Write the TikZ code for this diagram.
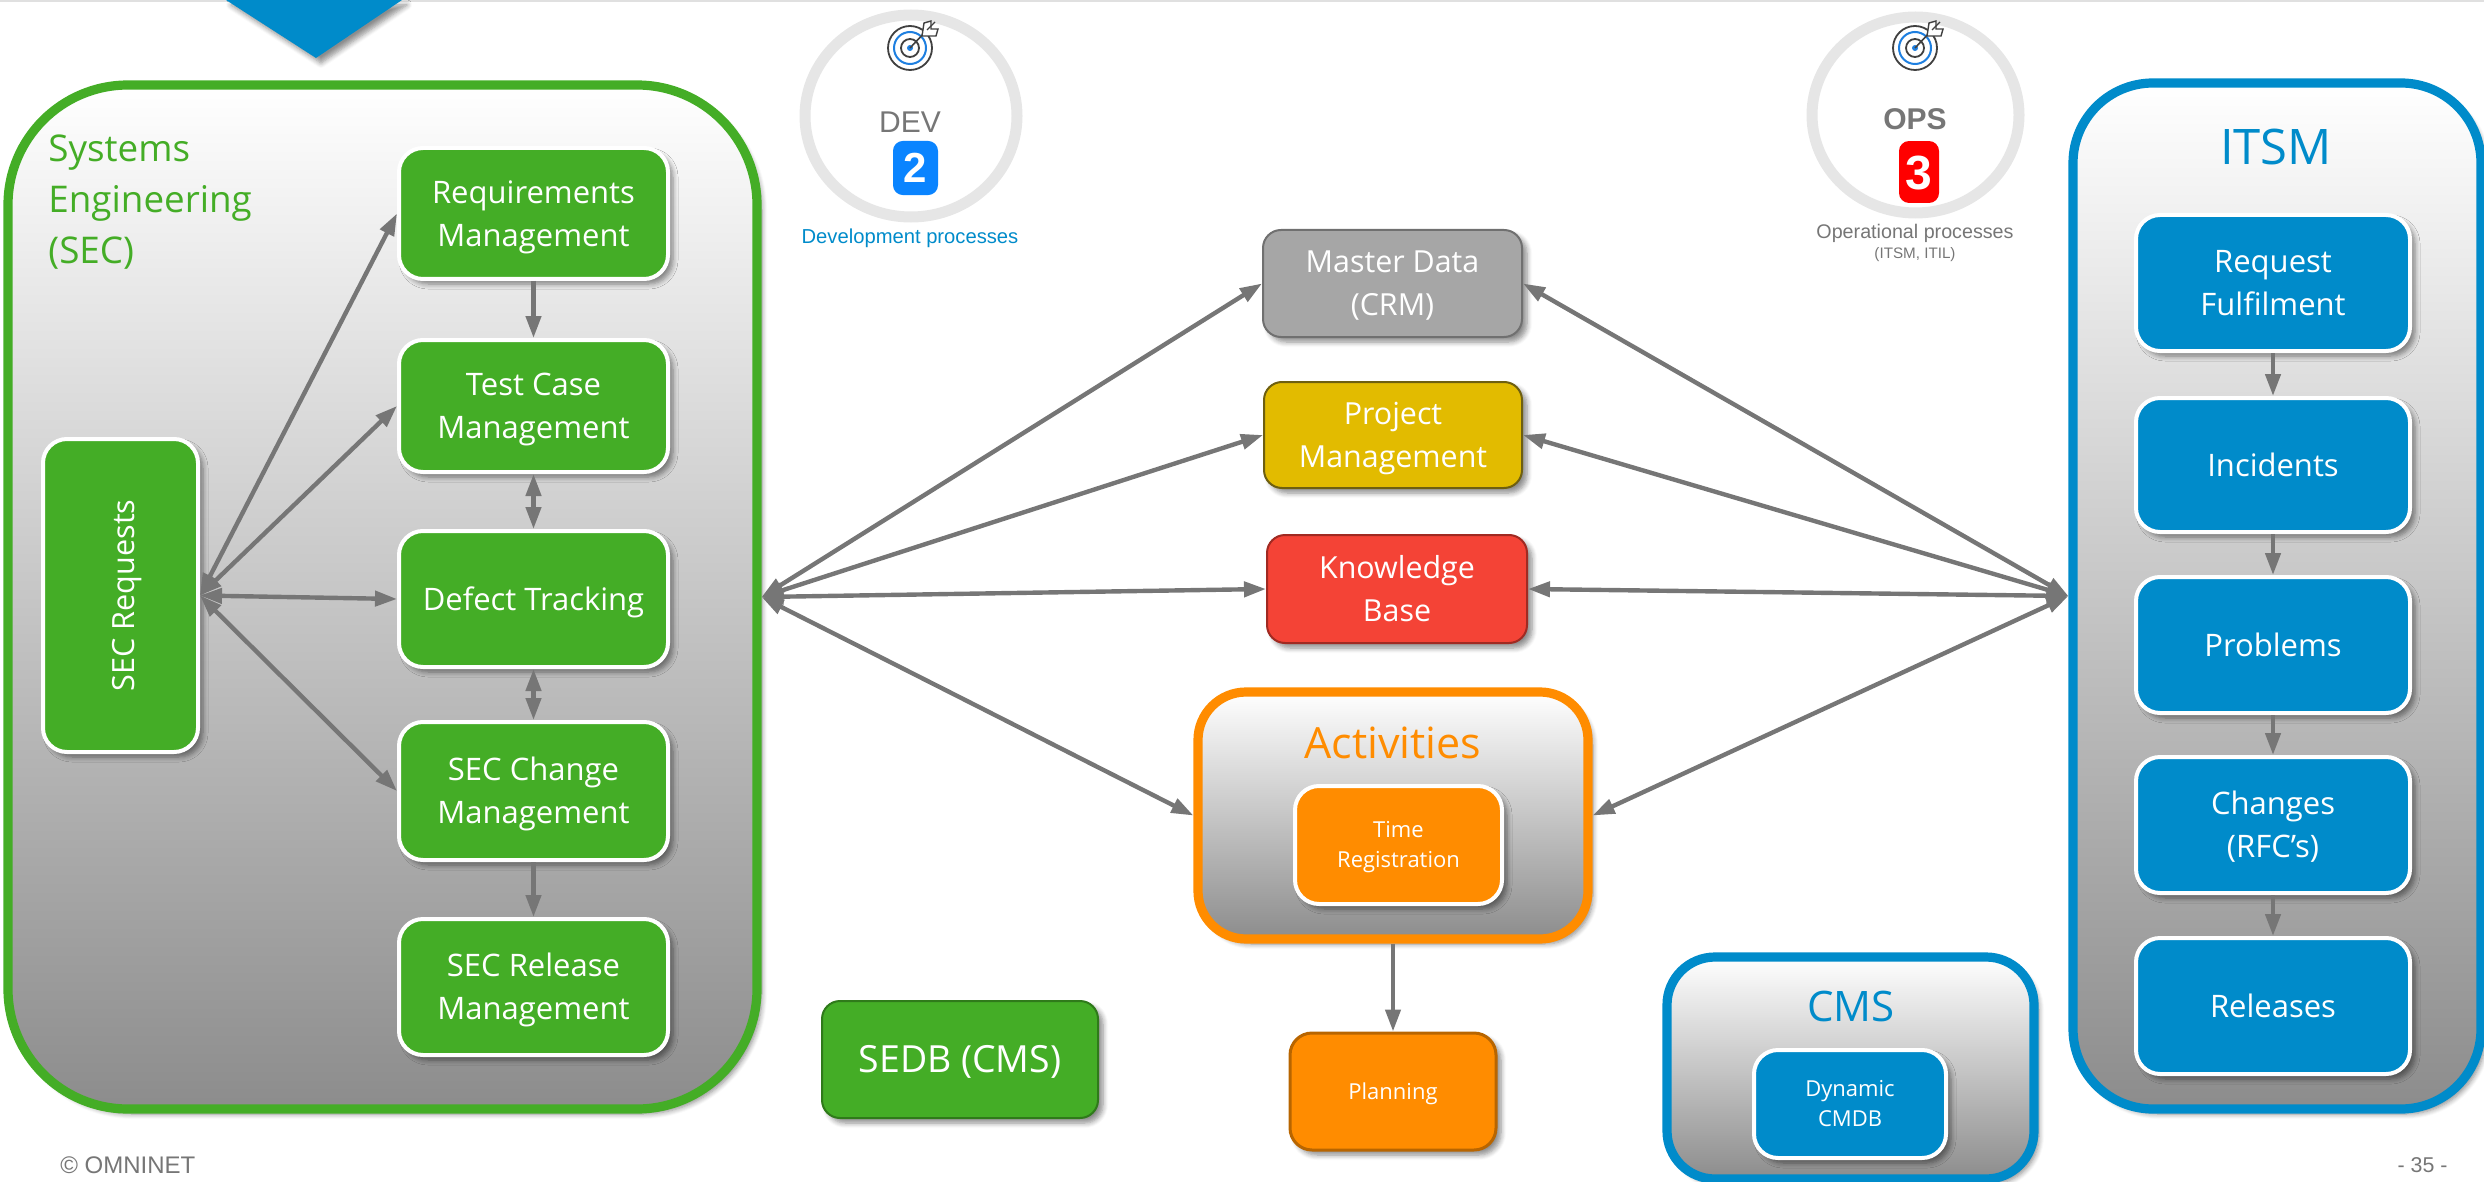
\documentclass[tikz,border=0pt]{standalone}
\usepackage{fontspec}
\setmainfont{Open Sans}
\newfontfamily\lib{Liberation Sans}
\usetikzlibrary{arrows.meta,shadows.blur,shapes.geometric}
\definecolor{sgreen}{HTML}{44AD26}
\definecolor{sgreendk}{HTML}{2F7A1A}
\definecolor{sblue}{HTML}{008BCA}
\definecolor{sorange}{HTML}{FF8C00}
\definecolor{sorangedk}{HTML}{B86500}
\definecolor{arrowgrey}{HTML}{767676}
\definecolor{ringgrey}{HTML}{E6E6E6}
\definecolor{txtgrey}{HTML}{767676}
\definecolor{mastergrey}{HTML}{A6A6A6}
\definecolor{mastergreydk}{HTML}{707070}
\definecolor{projyellow}{HTML}{E2BB00}
\definecolor{projyellowdk}{HTML}{6E5F10}
\definecolor{knowred}{HTML}{F44336}
\definecolor{knowreddk}{HTML}{A02A22}
\definecolor{badgeblue}{HTML}{0A84FF}
\definecolor{badgered}{HTML}{FF0000}
\definecolor{iconblue}{HTML}{1E7FE0}
\definecolor{icondark}{HTML}{404040}
\tikzset{
  shad/.style={blur shadow={shadow xshift=2.5pt,shadow yshift=-2.5pt,shadow blur steps=6,shadow blur radius=2.5pt,shadow opacity=45}},
  panel/.style={draw=#1,line width=4.6pt,top color=white,bottom color=black!45,shad,inner sep=0pt},
  procbox/.style={fill=#1,draw=white,line width=2pt,rounded corners=12pt,text=white,align=center,shad,inner sep=0pt,
     font=\fontsize{15.5}{21.5}\selectfont},
  smallbox/.style={procbox=#1,font=\fontsize{11}{15}\selectfont},
  solidbox/.style 2 args={fill=#1,draw=#2,line width=1pt,rounded corners=9pt,text=white,align=center,shad,inner sep=0pt,
     font=\fontsize{15.2}{21.5}\selectfont},
  conn/.style={draw=arrowgrey,line width=2.2pt,-{Triangle[length=11pt,width=7.5pt]}},
  conntwo/.style={draw=arrowgrey,line width=2.2pt,{Triangle[length=11pt,width=7.5pt]}-{Triangle[length=11pt,width=7.5pt]}},
  ptitle/.style={text=#1,align=center,inner sep=0pt},
  ring/.style={ellipse,draw=ringgrey,line width=5.5pt,fill=white,inner sep=0pt},
  lbl/.style={inner sep=0pt,align=center,font=\lib},
  badge/.style={fill=#1,rounded corners=5pt,inner sep=0pt,text=white},
}
\newcommand\bx[7]{%
  \pgfmathsetmacro\bxcx{(#2+#4)/2}\pgfmathsetmacro\bxcy{(#3+#5)/2}%
  \pgfmathsetmacro\bxw{(#4-#2)/2}\pgfmathsetmacro\bxh{(#5-#3)/2}%
  \node[#6,minimum width=\bxw pt,minimum height=\bxh pt] (#1) at (\bxcx,\bxcy) {\rule{0pt}{1em}#7\rule[-.29em]{0pt}{0pt}};}
\newcommand\targeticon[2]{%
  \begin{scope}[shift={(#1,#2)}]
    \draw[draw=icondark,line width=.9pt,fill=white] (0,0) circle [radius=11pt];
    \draw[draw=iconblue,line width=1pt] (0,0) circle [radius=8pt];
    \draw[draw=icondark,line width=.9pt] (0,0) circle [radius=4.5pt];
    \fill[iconblue] (0,0) circle [radius=1.5pt];
    \draw[icondark,line width=.8pt] (0,0) -- (17,-18);
    \draw[icondark,line width=.7pt,fill=white] (12,-12) -- (14,-25) -- (21,-27) -- (21,-19) -- (28,-19) -- (26,-12) -- cycle;
    \draw[icondark,line width=.6pt] (17,-18) -- (25,-26);
  \end{scope}}
\begin{document}
\begin{tikzpicture}[x=0.5pt,y=-0.5pt]
\useasboundingbox (0,0) rectangle (2484,1182);
\fill[black!12] (0,0) rectangle (2484,2.5);
% header triangle
\fill[sblue,shad] (226,0) -- (402,0) -- (316,58) -- cycle;
% circles
\bx{devring}{805}{15}{1017}{217}{ring}{}
\bx{opsring}{1812}{17}{2019}{213}{ring}{}
\targeticon{910}{48}
\targeticon{1915}{48}
\node[lbl,text=txtgrey,font=\lib\fontsize{15}{18}\selectfont] (devlbl) at (910,122) {DEV};
\node[lbl,text=txtgrey,font=\lib\bfseries\fontsize{15}{18}\selectfont] (opslbl) at (1915,119) {OPS};
\bx{devbadge}{893}{145}{938}{191}{badge=badgeblue,font=\lib\bfseries\fontsize{21}{21}\selectfont}{2}
\bx{opsbadge}{1899}{144}{1939}{200}{badge=badgered,font=\lib\bfseries\fontsize{24}{24}\selectfont}{3}
\node[lbl,text=sblue,font=\lib\fontsize{10.1}{12}\selectfont] (devcap) at (910,238) {Development processes};
\node[lbl,text=txtgrey,font=\lib\fontsize{9.85}{12}\selectfont] (opscap) at (1915,233) {Operational processes};
\node[lbl,text=txtgrey,font=\lib\fontsize{7.6}{9}\selectfont] (opscap2) at (1915,255) {(ITSM, ITIL)};
% SEC panel
\bx{sec}{8}{85}{757}{1109}{panel=sgreen,rounded corners=60pt}{}
\node[anchor=north west,text=sgreen,align=left,inner sep=0pt,font=\fontsize{18.4}{25.5}\selectfont] (sectitle) at (48,134) {Systems\\Engineering\\(SEC)};
\bx{req}{399}{148}{668}{279}{procbox=sgreen}{Requirements\\Management}
\bx{test}{399}{340}{668}{472}{procbox=sgreen}{Test Case\\Management}
\bx{defect}{399}{531}{668}{667}{procbox=sgreen}{Defect Tracking}
\bx{change}{399}{722}{668}{860}{procbox=sgreen}{SEC Change\\Management}
\bx{release}{399}{919}{668}{1055}{procbox=sgreen}{SEC Release\\Management}
\bx{secreq}{43}{439}{198}{752}{procbox=sgreen}{}
\node[rotate=90,text=white,inner sep=0pt,font=\fontsize{15.3}{21.5}\selectfont] (secreqlbl) at ([xshift=3.5pt]secreq.center) {SEC Requests};
% ITSM panel
\bx{itsm}{2073}{83}{2481}{1109}{panel=sblue,rounded corners=40pt}{}
\node[ptitle=sblue,font=\fontsize{24.5}{30}\selectfont] (itsmtitle) at (2276,147) {ITSM};
\bx{fulfil}{2136}{215}{2410}{351}{procbox=sblue}{Request\\Fulfilment}
\bx{incid}{2136}{398}{2410}{532}{procbox=sblue}{Incidents}
\bx{prob}{2136}{577}{2410}{713}{procbox=sblue}{Problems}
\bx{chg}{2136}{757}{2410}{893}{procbox=sblue}{Changes\\(RFC’s)}
\bx{rel}{2136}{938}{2410}{1074}{procbox=sblue}{Releases}
% middle boxes
\bx{master}{1263}{230}{1522}{337}{solidbox={mastergrey}{mastergreydk}}{Master Data\\(CRM)}
\bx{project}{1264}{382}{1522}{488}{solidbox={projyellow}{projyellowdk}}{Project\\Management}
\bx{know}{1267}{535}{1527}{643}{solidbox={knowred}{knowreddk}}{Knowledge\\Base}
\bx{activ}{1198}{692}{1588}{939}{panel=sorange,rounded corners=24pt}{}
\node[ptitle=sorange,font=\fontsize{21.5}{26}\selectfont] (activtitle) at (1393,743) {Activities};
\bx{timereg}{1295}{786}{1502}{904}{smallbox=sorange}{Time\\Registration}
\bx{plan}{1290}{1033}{1496}{1150}{solidbox={sorange}{sorangedk},line width=1.5pt,font=\fontsize{11}{15}\selectfont,rounded corners=11pt}{Planning}
\bx{sedb}{822}{1001}{1098}{1118}{solidbox={sgreen}{sgreendk},font=\fontsize{18.7}{26}\selectfont}{SEDB (CMS)}
% CMS panel
\bx{cms}{1667}{957}{2034}{1179}{panel=sblue,rounded corners=24pt}{}
\node[ptitle=sblue,font=\fontsize{21}{26}\selectfont] (cmstitle) at (1851,1006) {CMS};
\bx{cmdb}{1754}{1050}{1946}{1158}{smallbox=sblue}{Dynamic\\CMDB}
% connectors inside SEC
\draw[conntwo] (secreq.east) -- (req.west);
\draw[conntwo] (secreq.east) -- (test.west);
\draw[conntwo] (secreq.east) -- (defect.west);
\draw[conntwo] (secreq.east) -- (change.west);
\draw[conn] (req.south) -- (test.north);
\draw[conntwo] (test.south) -- (defect.north);
\draw[conntwo] (defect.south) -- (change.north);
\draw[conn] (change.south) -- (release.north);
% connectors inside ITSM
\draw[conn] (fulfil.south) -- (incid.north);
\draw[conn] (incid.south) -- (prob.north);
\draw[conn] (prob.south) -- (chg.north);
\draw[conn] (chg.south) -- (rel.north);
% centre connectors
\draw[conntwo] (sec.east) -- (master.west);
\draw[conntwo] (sec.east) -- (project.west);
\draw[conntwo] (sec.east) -- (know.west);
\draw[conntwo] (sec.east) -- (activ.west);
\draw[conntwo] (itsm.west) -- (master.east);
\draw[conntwo] (itsm.west) -- (project.east);
\draw[conntwo] (itsm.west) -- (know.east);
\draw[conntwo] (itsm.west) -- (activ.east);
\draw[conn] (activ.south) -- (plan.north);
% footer
\node[lbl,anchor=west,text=txtgrey,font=\lib\fontsize{12}{14}\selectfont] (copyr) at (60,1165) {© OMNINET};
\node[lbl,anchor=east,text=txtgrey,font=\lib\fontsize{10.7}{12}\selectfont] (pageno) at (2448,1165) {- 35 -};
\end{tikzpicture}
\end{document}
